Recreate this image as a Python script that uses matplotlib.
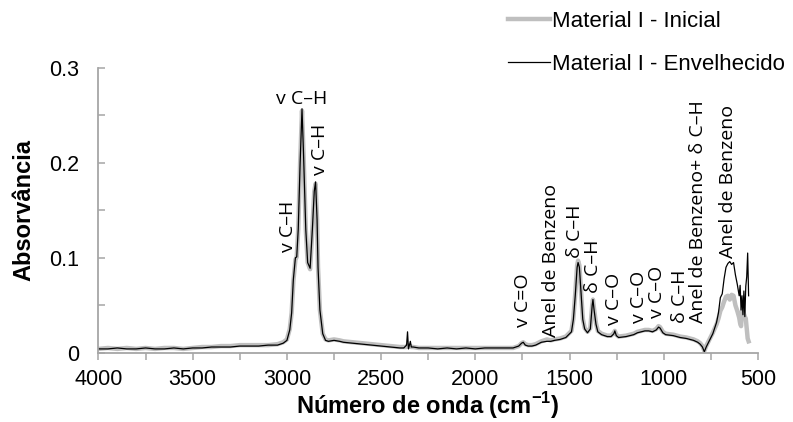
import matplotlib
matplotlib.use("Agg")
import matplotlib.pyplot as plt
from matplotlib.ticker import MultipleLocator

# Espectro FTIR (leitura aproximada do grafico original)
wavenumber = [4000, 3950, 3900, 3850, 3800, 3750, 3700, 3650, 3600, 3550,
              3500, 3450, 3400, 3350, 3300, 3250, 3200, 3150, 3100, 3050,
              3020, 3000, 2985, 2975, 2966, 2955, 2948, 2940, 2930, 2920,
              2912, 2900, 2890, 2877, 2865, 2855, 2848, 2840, 2835, 2825,
              2810, 2795, 2780, 2750, 2720, 2700, 2650, 2600, 2550, 2500,
              2450, 2400, 2380, 2365, 2360, 2355, 2345, 2340, 2330, 2300,
              2250, 2200, 2150, 2100, 2050, 2000, 1950, 1900, 1850, 1800,
              1770, 1755, 1746, 1735, 1720, 1700, 1680, 1650, 1620, 1600,
              1580, 1550, 1520, 1500, 1490, 1480, 1470, 1460, 1455, 1448,
              1440, 1430, 1420, 1405, 1390, 1380, 1376, 1370, 1360, 1350,
              1330, 1300, 1280, 1265, 1260, 1252, 1240, 1200, 1180, 1160,
              1140, 1120, 1100, 1080, 1060, 1040, 1028, 1020, 1005, 990,
              950, 913, 880, 842, 820, 807, 795, 785, 775, 760,
              740, 720, 710, 700, 690, 680, 670, 660, 650, 640,
              630, 620, 610, 600, 595, 590, 585, 580, 575, 570,
              565, 560, 555, 550]
inicial = [0.004, 0.005, 0.004, 0.005, 0.004, 0.005, 0.004, 0.005, 0.005, 0.004,
           0.005, 0.006, 0.006, 0.007, 0.007, 0.008, 0.008, 0.008, 0.008, 0.009,
           0.011, 0.014, 0.025, 0.042, 0.075, 0.098, 0.101, 0.130, 0.200, 0.255,
           0.210, 0.130, 0.095, 0.088, 0.130, 0.170, 0.178, 0.140, 0.090, 0.045,
           0.020, 0.014, 0.013, 0.014, 0.013, 0.012, 0.011, 0.010, 0.009, 0.008,
           0.007, 0.006, 0.006, 0.006, 0.008, 0.006, 0.007, 0.006, 0.006, 0.005,
           0.005, 0.005, 0.005, 0.005, 0.005, 0.005, 0.005, 0.005, 0.005, 0.005,
           0.007, 0.010, 0.011, 0.009, 0.008, 0.008, 0.009, 0.012, 0.014, 0.013,
           0.014, 0.015, 0.017, 0.021, 0.023, 0.036, 0.062, 0.092, 0.097, 0.092,
           0.067, 0.036, 0.026, 0.022, 0.026, 0.050, 0.056, 0.046, 0.031, 0.023,
           0.020, 0.018, 0.018, 0.021, 0.023, 0.019, 0.017, 0.018, 0.019, 0.020,
           0.022, 0.023, 0.024, 0.024, 0.023, 0.025, 0.028, 0.027, 0.022, 0.020,
           0.019, 0.017, 0.016, 0.014, 0.012, 0.010, 0.007, 0.002, 0.007, 0.013,
           0.021, 0.030, 0.036, 0.044, 0.048, 0.054, 0.059, 0.060, 0.056, 0.061,
           0.060, 0.050, 0.044, 0.037, 0.031, 0.028, 0.044, 0.048, 0.041, 0.038,
           0.036, 0.025, 0.015, 0.012]
envelhecido = [0.004, 0.004, 0.005, 0.004, 0.004, 0.005, 0.004, 0.004, 0.005, 0.004,
               0.005, 0.005, 0.006, 0.006, 0.006, 0.007, 0.007, 0.007, 0.008, 0.008,
               0.010, 0.013, 0.024, 0.042, 0.077, 0.100, 0.101, 0.130, 0.200, 0.257,
               0.210, 0.130, 0.095, 0.089, 0.130, 0.170, 0.180, 0.140, 0.090, 0.045,
               0.020, 0.013, 0.012, 0.013, 0.012, 0.011, 0.010, 0.009, 0.008, 0.007,
               0.006, 0.005, 0.005, 0.008, 0.022, 0.004, 0.012, 0.006, 0.006, 0.005,
               0.005, 0.004, 0.005, 0.004, 0.005, 0.004, 0.005, 0.005, 0.005, 0.005,
               0.007, 0.010, 0.011, 0.008, 0.007, 0.007, 0.008, 0.011, 0.012, 0.012,
               0.013, 0.014, 0.016, 0.020, 0.022, 0.035, 0.060, 0.090, 0.095, 0.090,
               0.065, 0.035, 0.025, 0.021, 0.025, 0.050, 0.056, 0.045, 0.030, 0.022,
               0.019, 0.017, 0.017, 0.020, 0.023, 0.018, 0.016, 0.017, 0.018, 0.019,
               0.021, 0.022, 0.023, 0.023, 0.022, 0.024, 0.027, 0.026, 0.021, 0.019,
               0.018, 0.016, 0.015, 0.013, 0.011, 0.009, 0.006, 0.001, 0.006, 0.012,
               0.020, 0.032, 0.042, 0.058, 0.062, 0.078, 0.090, 0.094, 0.096, 0.093,
               0.095, 0.082, 0.072, 0.060, 0.071, 0.045, 0.060, 0.040, 0.065, 0.038,
               0.070, 0.080, 0.105, 0.060]

# Atribuicao das bandas: texto, numero de onda, absorvancia, rotacao
band_labels = ["v C–H", "v C–H", "v C–H", "v C=O", "Anel de Benzeno",
               "δ C–H", "δ C–H", "v C–O", "v C–O", "v C–O", "δ C–H",
               "Anel de Benzeno+ δ C–H", "Anel de Benzeno"]
band_x = [2920, 2994, 2825, 1747, 1599, 1471, 1376, 1264, 1132, 1036, 914, 819, 660]
band_y = [0.258, 0.106, 0.187, 0.027, 0.017, 0.100, 0.063, 0.029, 0.031, 0.037,
          0.031, 0.031, 0.100]
band_rot = [0, 90, 90, 90, 90, 90, 90, 90, 90, 90, 90, 90, 90]

parameters = {
    "tick fontsize": 15.5,
    "label fontsize": 17,
    "legend fontsize": 16,
    "band fontsize": 14,
    "spine color": "#A6A6A6",
}

plt.rcParams["font.family"] = ["Liberation Sans", "DejaVu Sans"]

fig = plt.figure(figsize=(7.93, 4.22), dpi=100)
ax = fig.add_axes([0.1242, 0.1642, 0.8317, 0.6747])

ax.plot(wavenumber, inicial, color="#BFBFBF", lw=3.2,
        label="Material I - Inicial", solid_joinstyle="round")
ax.plot(wavenumber, envelhecido, color="#000000", lw=0.9,
        label="Material I - Envelhecido")

ax.set_xlim(4000, 500)
ax.set_ylim(0, 0.3)
ax.xaxis.set_major_locator(MultipleLocator(500))
ax.xaxis.set_minor_locator(MultipleLocator(250))
ax.yaxis.set_major_locator(MultipleLocator(0.1))
ax.yaxis.set_minor_locator(MultipleLocator(0.05))
ax.set_yticks([0, 0.1, 0.2, 0.3], ["0", "0.1", "0.2", "0.3"])

for side in ["top", "right"]:
    ax.spines[side].set_visible(False)
for side in ["left", "bottom"]:
    ax.spines[side].set_color(parameters["spine color"])
    ax.spines[side].set_linewidth(1.3)

ax.tick_params(axis="x", which="both", direction="out", length=5,
               width=1.1, color=parameters["spine color"],
               labelsize=parameters["tick fontsize"], pad=7)
ax.tick_params(axis="y", which="both", direction="in", length=5,
               width=1.1, color=parameters["spine color"],
               labelsize=parameters["tick fontsize"], pad=14)

ax.set_xlabel("Número de onda (cm$^{\\mathregular{-1}}$)",
              fontsize=parameters["label fontsize"], fontweight="bold",
              labelpad=0)
ax.set_ylabel("Absorvância", fontsize=parameters["label fontsize"],
              fontweight="bold", labelpad=10)

for text, x, y, rot in zip(band_labels, band_x, band_y, band_rot):
    ax.text(x, y, text, rotation=rot, ha="center", va="bottom",
            fontsize=parameters["band fontsize"],
            family=["Open Sans", "DejaVu Sans"])

ax.legend(loc="upper left", bbox_to_anchor=(508 / 793, 1 - 11 / 422),
          bbox_transform=fig.transFigure, frameon=False, borderpad=0,
          borderaxespad=0, handlelength=1.9, handletextpad=0.1,
          labelspacing=1.0, fontsize=parameters["legend fontsize"])

plt.savefig("out.png", dpi=100)
